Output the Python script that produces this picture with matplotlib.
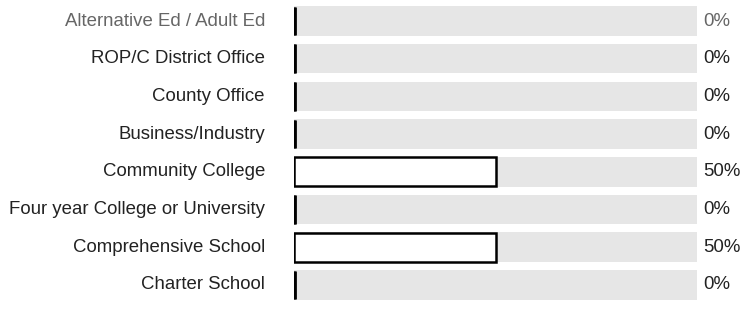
import matplotlib.pyplot as plt

plt.rcParams['font.family'] = ['Liberation Sans', 'DejaVu Sans']

categories = ['Alternative Ed / Adult Ed', 'ROP/C District Office', 'County Office',
              'Business/Industry', 'Community College', 'Four year College or University',
              'Comprehensive School', 'Charter School']
values = [0, 0, 0, 0, 50, 0, 50, 0]
label_colors = ['#666666', '#222222', '#222222', '#222222',
                '#222222', '#222222', '#222222', '#222222']

W, H = 742, 329
fig = plt.figure(figsize=(W / 100, H / 100), dpi=100)
ax = fig.add_axes([294 / W, 0, 403 / W, 1])

y = list(range(len(categories)))
ax.barh(y, [100] * len(y), height=0.78, color='#e6e6e6', left=0)
ax.barh(y, values, height=0.76, color='white', edgecolor='black', linewidth=1.8)
# zero values show as a thick tick at the start
zero_y = [i for i, v in zip(y, values) if v == 0]
ax.vlines([0.3] * len(zero_y), [i - 0.38 for i in zero_y], [i + 0.38 for i in zero_y],
          color='black', linewidth=2.0)

step = 37.7
ax.set_ylim((H - 21) / step, -21 / step)
ax.set_xlim(0, 100)
ax.axis('off')

for i, (cat, v, c) in enumerate(zip(categories, values, label_colors)):
    ax.text(-7.2, i, cat, ha='right', va='center', fontsize=13.4, color=c)
    ax.text(101.6, i, f'{v}%', ha='left', va='center', fontsize=13.4, color=c)

fig.savefig('out.png', dpi=100)
